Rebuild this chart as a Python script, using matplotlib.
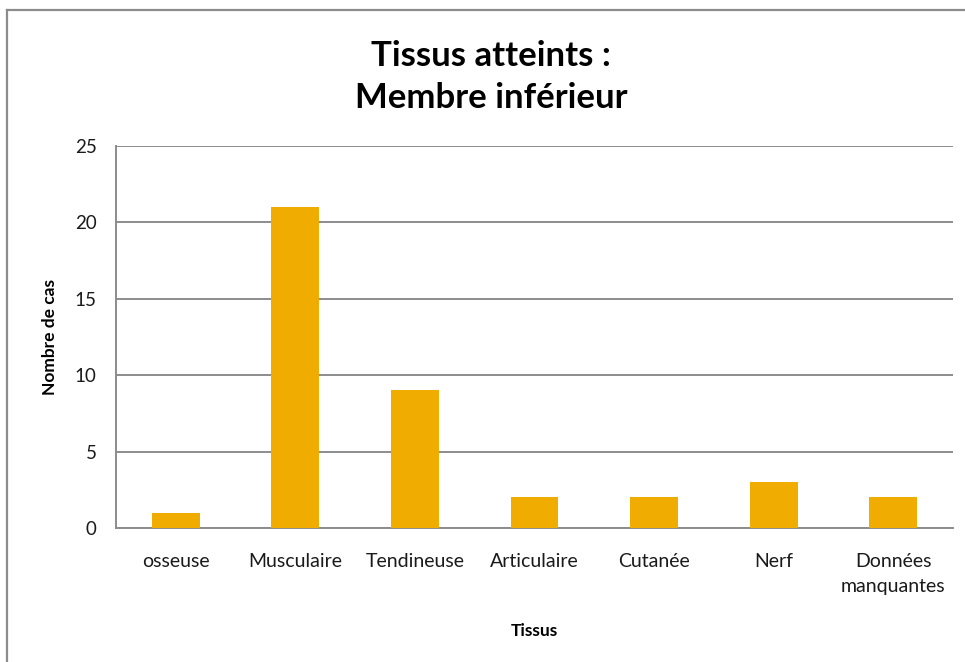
import matplotlib.pyplot as plt
from matplotlib.lines import Line2D

tissus = ["osseuse", "Musculaire", "Tendineuse", "Articulaire", "Cutanée", "Nerf", "Données\nmanquantes"]
nb_cas = [1, 21, 9, 2, 2, 3, 2]
yticks = [0, 5, 10, 15, 20, 25]

plt.rcParams['font.family'] = ['Lato', 'DejaVu Sans']

fig = plt.figure(figsize=(9.65, 6.62), dpi=100)
ax = fig.add_axes([116/965, 1-528/662, (953-116)/965, (528-146)/662])

x = range(len(tissus))
ax.bar(x, nb_cas, width=0.4, color="#F0AD00", zorder=3)
ax.set_xlim(-0.5, len(tissus)-0.5)
ax.set_ylim(0, 25)
ax.set_yticks(yticks)
ax.set_xticks(list(x))
ax.set_xticklabels(tissus, fontsize=14, color="#1a1a1a")
for lbl in ax.get_xticklabels():
    lbl.set_linespacing(1.6)
ax.tick_params(axis='x', length=0, pad=18)
ax.tick_params(axis='y', length=0, pad=14, labelsize=13.5, labelcolor="#1a1a1a")
ax.grid(axis='y', color="#8c8c8c", linewidth=1.4, zorder=0)
for s in ['top', 'right']:
    ax.spines[s].set_visible(False)
for s in ['left', 'bottom']:
    ax.spines[s].set_color("#8c8c8c")
    ax.spines[s].set_linewidth(1.4)

ax.set_ylabel("Nombre de cas", fontsize=12.5, fontweight='bold', labelpad=12)
ax.set_xlabel("Tissus", fontsize=12.5, fontweight='bold', labelpad=20)

fig.text(491/965, 1-77/662, "Tissus atteints :\nMembre inférieur", ha='center', va='center',
         fontsize=25, fontweight='bold', linespacing=1.4)

# chart area border (left and top visible)
fig.add_artist(Line2D([7/965, 7/965], [0, 1-10/662], color="#8c8c8c", linewidth=1.6))
fig.add_artist(Line2D([7/965, 1], [1-10/662, 1-10/662], color="#8c8c8c", linewidth=1.6))

fig.savefig("out.png", dpi=100)
